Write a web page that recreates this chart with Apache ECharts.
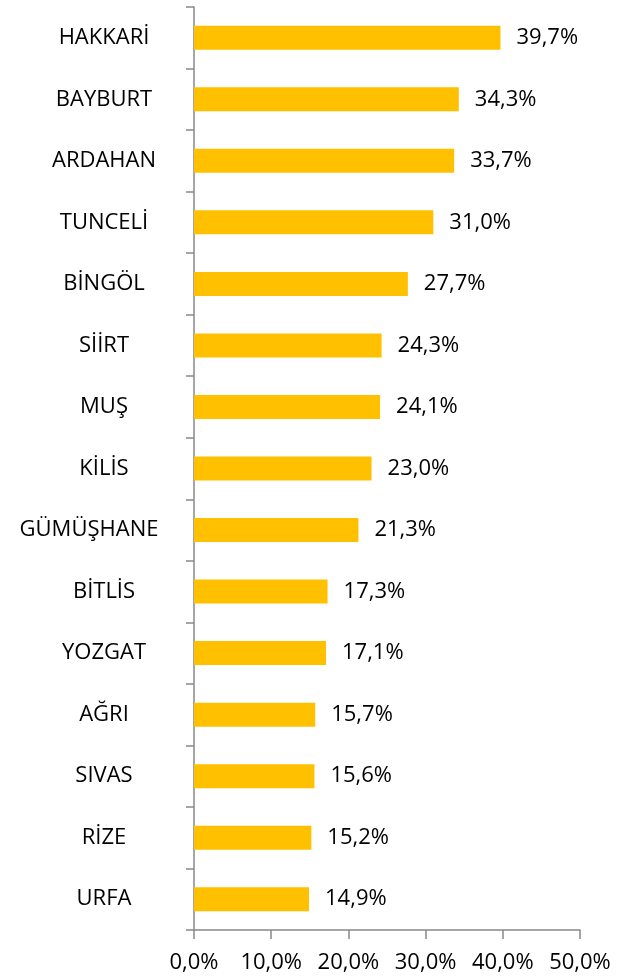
<!DOCTYPE html>
<html>
<head>
<meta charset="utf-8">
<script src="https://cdn.jsdelivr.net/npm/echarts@6/dist/echarts.min.js"></script>
<style>
html,body{margin:0;padding:0;background:#fff;}
#chart{width:629px;height:979px;}
</style>
</head>
<body>
<div id="chart"></div>
<script>
const categories = ['HAKKARİ','BAYBURT','ARDAHAN','TUNCELİ','BİNGÖL','SİİRT','MUŞ','KİLİS','GÜMÜŞHANE','BİTLİS','YOZGAT','AĞRI','SIVAS','RİZE','URFA'];
const values = [39.7,34.3,33.7,31.0,27.7,24.3,24.1,23.0,21.3,17.3,17.1,15.7,15.6,15.2,14.9];
const xTicks = [0,10,20,30,40,50];

const fmt = v => v.toFixed(1).replace('.', ',') + '%';
const FONT = '"Open Sans", sans-serif';

const chart = echarts.init(document.getElementById('chart'), null, {renderer:'canvas'});
chart.setOption({
  animation:false,
  backgroundColor:'#fff',
  grid:{left:194, right:49, top:7, bottom:49, containLabel:false},
  xAxis:{
    type:'value', min:xTicks[0], max:xTicks[xTicks.length-1], interval:10,
    axisLine:{show:true, lineStyle:{color:'#888', width:1.5}},
    axisTick:{show:true, inside:false, length:9, lineStyle:{color:'#888', width:1.5}},
    splitLine:{show:false},
    axisLabel:{formatter:v=>fmt(v), fontFamily:FONT, fontSize:22, color:'#000', margin:22}
  },
  yAxis:{
    type:'category', data:categories, inverse:true,
    axisLine:{show:true, lineStyle:{color:'#888', width:1.5}},
    axisTick:{show:true, alignWithLabel:false, length:8, lineStyle:{color:'#888', width:1.5}},
    axisLabel:{
      fontFamily:FONT, fontSize:22, color:'#000', align:'center', margin:90,
      formatter:v => v === 'GÜMÜŞHANE' ? '{w|' + v + '}' : v,
      rich:{w:{fontFamily:FONT, fontSize:22, color:'#000', padding:[0,30,0,0]}}
    }
  },
  series:[{
    type:'bar', data:values, barWidth:24,
    itemStyle:{color:'#FFC000'},
    label:{show:true, position:'right', distance:16, formatter:p=>fmt(p.value),
      fontFamily:FONT, fontSize:22, color:'#000'}
  }]
});
</script>
</body>
</html>
